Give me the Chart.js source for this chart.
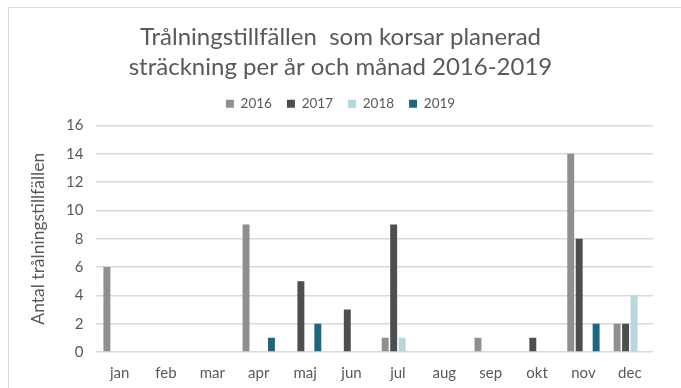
<!DOCTYPE html>
<html lang="sv">
<head>
<meta charset="utf-8">
<title>Trålningstillfällen per år och månad</title>
<script src="https://cdn.jsdelivr.net/npm/chart.js@4"></script>
<style>
    html, body { margin: 0; padding: 0; background: #ffffff; }
    #wrap { position: relative; width: 681px; height: 388px; overflow: hidden; }
    #frame {
        position: absolute; left: 8px; top: 7px; right: -2px; bottom: -2px;
        border-left: 1px solid #d9d9d9; border-top: 1px solid #d9d9d9;
        pointer-events: none;
    }
    canvas { display: block; }
</style>
</head>
<body>
<div id="wrap">
    <canvas id="chart" width="681" height="388"></canvas>
    <div id="frame"></div>
</div>
<script>
// Månader och antal trålningstillfällen per år
const months = ['jan', 'feb', 'mar', 'apr', 'maj', 'jun', 'jul', 'aug', 'sep', 'okt', 'nov', 'dec'];
const years = ['2016', '2017', '2018', '2019'];
const values2016 = [6, 0, 0, 9, 0, 0, 1, 0, 1, 0, 14, 2];
const values2017 = [0, 0, 0, 0, 5, 3, 9, 0, 0, 1, 8, 2];
const values2018 = [0, 0, 0, 0, 0, 0, 1, 0, 0, 0, 0, 4];
const values2019 = [0, 0, 0, 1, 2, 0, 0, 0, 0, 0, 2, 0];
const yTicks = [0, 2, 4, 6, 8, 10, 12, 14, 16];

const colors = ['#8f8f8f', '#4b4f51', '#b9d5dd', '#1e6680'];
const textGray = '#595959';
const font = 'Lato, "Open Sans", sans-serif';

const series = [values2016, values2017, values2018, values2019];

// extra space under the legend
const legendGap = {
    id: 'legendGap',
    beforeInit(chart) {
        const fit = chart.legend.fit;
        chart.legend.fit = function () {
            fit.bind(chart.legend)();
            this.height += 5;
        };
    }
};

new Chart(document.getElementById('chart').getContext('2d'), {
    type: 'bar',
    data: {
        labels: months,
        datasets: years.map((y, i) => ({
            label: y,
            data: series[i],
            backgroundColor: colors[i],
            borderWidth: 0,
            categoryPercentage: 0.73,
            barPercentage: 0.82
        }))
    },
    plugins: [legendGap],
    options: {
        responsive: false,
        animation: false,
        layout: { padding: { left: 28, right: 28, top: 4, bottom: -6 } },
        plugins: {
            title: {
                display: true,
                text: ['Trålningstillfällen  som korsar planerad', 'sträckning per år och månad 2016-2019'],
                color: textGray,
                font: { family: font, size: 24, weight: 'normal', lineHeight: 1.25 },
                padding: { top: 18, bottom: 0 }
            },
            legend: {
                display: true,
                position: 'top',
                labels: {
                    color: textGray,
                    font: { family: font, size: 13.5 },
                    boxWidth: 8,
                    boxHeight: 8,
                    padding: 15
                }
            },
            tooltip: { enabled: false }
        },
        scales: {
            x: {
                grid: { display: false, drawTicks: false },
                border: { display: false },
                ticks: { color: textGray, font: { family: font, size: 15 }, padding: 12 }
            },
            y: {
                min: 0,
                max: 16,
                afterBuildTicks: axis => { axis.ticks = yTicks.map(v => ({ value: v })); },
                grid: { color: '#d9d9d9', lineWidth: 1.5, drawTicks: false },
                border: { display: false },
                ticks: { color: textGray, font: { family: font, size: 15 }, padding: 13 },
                title: {
                    display: true,
                    text: 'Antal trålningstillfällen',
                    color: textGray,
                    font: { family: font, size: 17.5 },
                    padding: { top: 0, bottom: 4 }
                }
            }
        }
    }
});
</script>
</body>
</html>
